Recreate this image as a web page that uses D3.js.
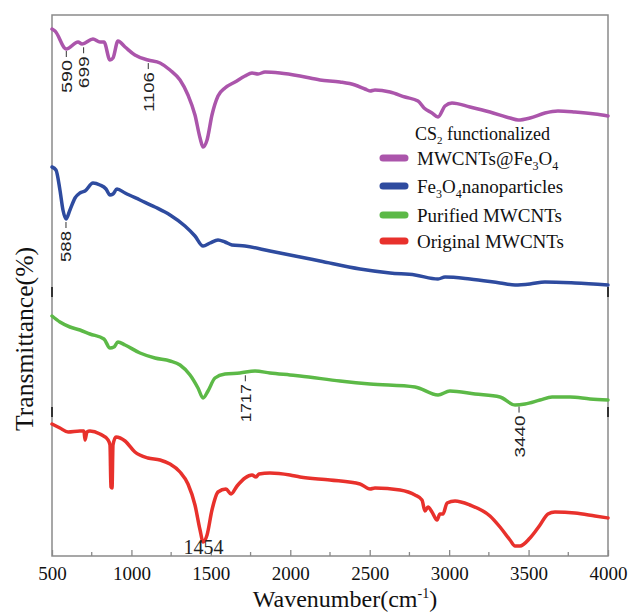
<!DOCTYPE html>
<html><head><meta charset="utf-8">
<script src="https://cdn.jsdelivr.net/npm/d3@7"></script>
<style>body{margin:0;background:#fff}svg{display:block}</style>
</head><body>
<svg id="c" width="628" height="616"></svg>
<script>
// Offset transmittance (arbitrary units, curves stacked), x = wavenumber (cm-1)
const magentaWN = [500,519,590,664,689,758,802,827,865,884,915,960,1022,1104,1180,1243,1306,1356,1400,1432,1451,1476,1507,1545,1589,1652,1715,1759,1797,1841,1935,2061,2187,2313,2407,2470,2502,2533,2628,2722,2804,2842,2892,2930,2974,3018,3131,3257,3383,3434,3509,3603,3685,3792,3918,4000];
const magentaT  = [527,525,507,514,512,517,514,514,496,498,515,509,501,496,493,486,476,461,441,418,409,416,441,460,468,474,480,483,482,484,483,480,476,474,471,467,465,466,464,459,455,448,443,439,450,453,449,444,438,436,438,443,445,444,442,440];

const blueWN = [500,525,550,569,588,613,645,676,708,758,802,840,865,884,909,960,1054,1148,1243,1337,1400,1451,1495,1545,1589,1633,1715,1872,2030,2187,2439,2628,2785,2930,2974,3131,3320,3415,3509,3603,3792,4000];
const blueT  = [389,386,366,346,337,346,358,363,365,373,371,367,361,362,367,363,356,349,341,330,320,310,313,316,314,311,310,305,300,295,287,283,281,277,279,277,273,271,272,274,273,271];

const greenWN = [500,550,613,676,739,827,865,890,915,960,1054,1148,1243,1306,1369,1419,1451,1482,1526,1589,1683,1778,1872,1998,2061,2313,2502,2785,2930,3005,3163,3320,3415,3478,3572,3648,3761,3887,4000];
const greenT  = [240,234,229,226,222,217,208,209,214,211,203,198,195,191,181,168,158,165,178,182,183,185,183,181,180,175,172,169,161,165,162,159,151,152,156,159,159,157,156];

const redWN = [500,550,601,676,701,708,720,739,802,853,865,871,878,884,903,960,1022,1104,1180,1243,1306,1356,1400,1432,1451,1476,1507,1545,1595,1627,1665,1715,1759,1784,1803,1872,1998,2061,2250,2439,2502,2533,2691,2785,2829,2848,2867,2892,2924,2942,2961,2987,3037,3131,3257,3320,3383,3415,3446,3509,3572,3622,3666,3792,3918,4000];
const redT  = [132,128,124,125,125,116,124,125,122,116,111,69,68,111,119,115,104,98,96,92,84,72,51,26,14,21,46,64,67,62,70,78,81,79,82,83,81,79,76,72,67,68,66,61,56,45,49,44,36,42,42,53,55,51,40,29,16,10,10,18,31,42,44,43,40,38];

const seriesNames = ["MWCNTs@Fe3O4","Fe3O4nanoparticles","Purified MWCNTs","Original MWCNTs"];
const seriesColors = ["#ab55ab","#2e4b9f","#5cb947","#e8312c"];
const xTicks = [500,1000,1500,2000,2500,3000,3500,4000];
const xMinor = [750,1250,1750,2250,2750,3250,3750];

// peak annotations: [wavenumber, series index, label]
const peakLabels = [[590,0,"590"],[699,0,"699"],[1106,0,"1106"],[588,1,"588"],[1717,2,"1717"],[3440,2,"3440"]];

const svg = d3.select("#c");
const L=52, R=608, T=15, B=556;
const x = d3.scaleLinear().domain([500,4000]).range([L,R]);
const y = d3.scaleLinear().domain([0,541]).range([B,T]);
const serif = "'Liberation Serif','Times New Roman',serif";
const sans = "'Liberation Sans',Arial,sans-serif";

const data = [
  d3.zip(magentaWN, magentaT),
  d3.zip(blueWN, blueT),
  d3.zip(greenWN, greenT),
  d3.zip(redWN, redT)
];

// frame
svg.append("rect").attr("x",L).attr("y",T).attr("width",R-L).attr("height",B-T)
  .attr("fill","none").attr("stroke","#8a8a8a").attr("stroke-width",1.5);

// small break marks on side axes
[292,412].forEach(yy=>{
  svg.append("line").attr("x1",L).attr("x2",L).attr("y1",yy-5).attr("y2",yy+5).attr("stroke","#333").attr("stroke-width",2);
  svg.append("line").attr("x1",R).attr("x2",R).attr("y1",yy-5).attr("y2",yy+5).attr("stroke","#333").attr("stroke-width",2);
});

// x axis, ticks inward
const ax = d3.axisBottom(x).tickValues(xTicks).tickSize(-6).tickPadding(10).tickFormat(d3.format("d"));
const gx = svg.append("g").attr("transform",`translate(0,${B})`).call(ax);
gx.attr("font-family",null).attr("font-size",null);
gx.select(".domain").remove();
gx.selectAll(".tick line").attr("stroke","#8a8a8a").attr("stroke-width",1.3);
gx.selectAll(".tick text").attr("dy",null).attr("y",24)
  .style("font-family",serif).style("font-size","19px").attr("fill","#111");
svg.append("g").selectAll("line").data(xMinor).join("line")
  .attr("x1",d=>x(d)).attr("x2",d=>x(d)).attr("y1",B).attr("y2",B-4)
  .attr("stroke","#8a8a8a").attr("stroke-width",1.3);

// axis titles
const xt = svg.append("text").attr("x",345).attr("y",607).attr("text-anchor","middle")
  .style("font-family",serif).style("font-size","24px").attr("fill","#111");
xt.append("tspan").text("Wavenumber(cm");
xt.append("tspan").style("font-size","14px").attr("dy",-9).text("-1");
xt.append("tspan").attr("dy",9).text(")");

svg.append("text").attr("transform","translate(33,339) rotate(-90)").attr("text-anchor","middle")
  .attr("textLength",184).attr("lengthAdjust","spacingAndGlyphs")
  .style("font-family",serif).style("font-size","25px").attr("fill","#111")
  .text("Transmittance(%)");

// curves
const line = d3.line().x(d=>x(d[0])).y(d=>y(d[1])).curve(d3.curveMonotoneX);
svg.append("g").selectAll("path").data(data).join("path")
  .attr("d",line).attr("fill","none")
  .attr("stroke",(d,i)=>seriesColors[i]).attr("stroke-width",3.5)
  .attr("stroke-linejoin","round").attr("stroke-linecap","round");

// peak labels (rotated)
function interp(arrX, arrY, w){
  const i = d3.bisectLeft(arrX, w);
  if (i<=0) return arrY[0];
  const x0=arrX[i-1], x1=arrX[i]; const t=(w-x0)/(x1-x0);
  return arrY[i-1]+(arrY[i]-arrY[i-1])*t;
}
const lblGap = {"590":2,"699":4,"1106":3,"588":3,"1717":3,"3440":2};
const lblLen = {"590":33,"699":32,"1106":40,"588":31,"1717":38,"3440":42};
peakLabels.forEach(([w,s,lab])=>{
  const px = x(w);
  const py = y(interp(data[s].map(d=>d[0]), data[s].map(d=>d[1]), w)) + lblGap[lab];
  svg.append("line").attr("x1",px).attr("x2",px).attr("y1",py).attr("y2",py+6).attr("stroke","#333").attr("stroke-width",1);
  svg.append("text").attr("transform",`translate(${px+5.5},${py+9}) rotate(-90)`).attr("text-anchor","end")
    .attr("textLength",lblLen[lab]).attr("lengthAdjust","spacingAndGlyphs")
    .style("font-family",sans).style("font-size","15px").attr("fill","#222").text(lab);
});
svg.append("text").attr("x",x(1454)).attr("y",554).attr("text-anchor","middle")
  .style("font-family",serif).style("font-size","20px").attr("fill","#222").text("1454");

// legend
const lg = svg.append("g");
const t0 = lg.append("text").attr("x",415).attr("y",140).style("font-family",serif).style("font-size","18px").attr("fill","#111");
t0.append("tspan").text("CS");
t0.append("tspan").style("font-size","11px").attr("dy",4).text("2");
t0.append("tspan").attr("dy",-4).text(" functionalized");

const legendRows = [
  {y:158, parts:[["MWCNTs@Fe",0],["3",1],["O",0],["4",1]]},
  {y:186, parts:[["Fe",0],["3",1],["O",0],["4",1],["nanoparticles",0]]},
  {y:215, parts:[["Purified MWCNTs",0]]},
  {y:241, parts:[["Original MWCNTs",0]]}
];
legendRows.forEach((r,i)=>{
  lg.append("line").attr("x1",383).attr("x2",405).attr("y1",r.y).attr("y2",r.y)
    .attr("stroke",seriesColors[i]).attr("stroke-width",7).attr("stroke-linecap","round");
  const t = lg.append("text").attr("x",417).attr("y",r.y+7).style("font-family",serif).style("font-size","19px").attr("fill","#111");
  let sub=false;
  r.parts.forEach(([s,isSub])=>{
    const ts = t.append("tspan").text(s);
    if (isSub) ts.style("font-size","12px");
    if (isSub && !sub){ ts.attr("dy",5); sub=true; }
    else if (!isSub && sub){ ts.attr("dy",-5); sub=false; }
  });
});
</script>
</body></html>
